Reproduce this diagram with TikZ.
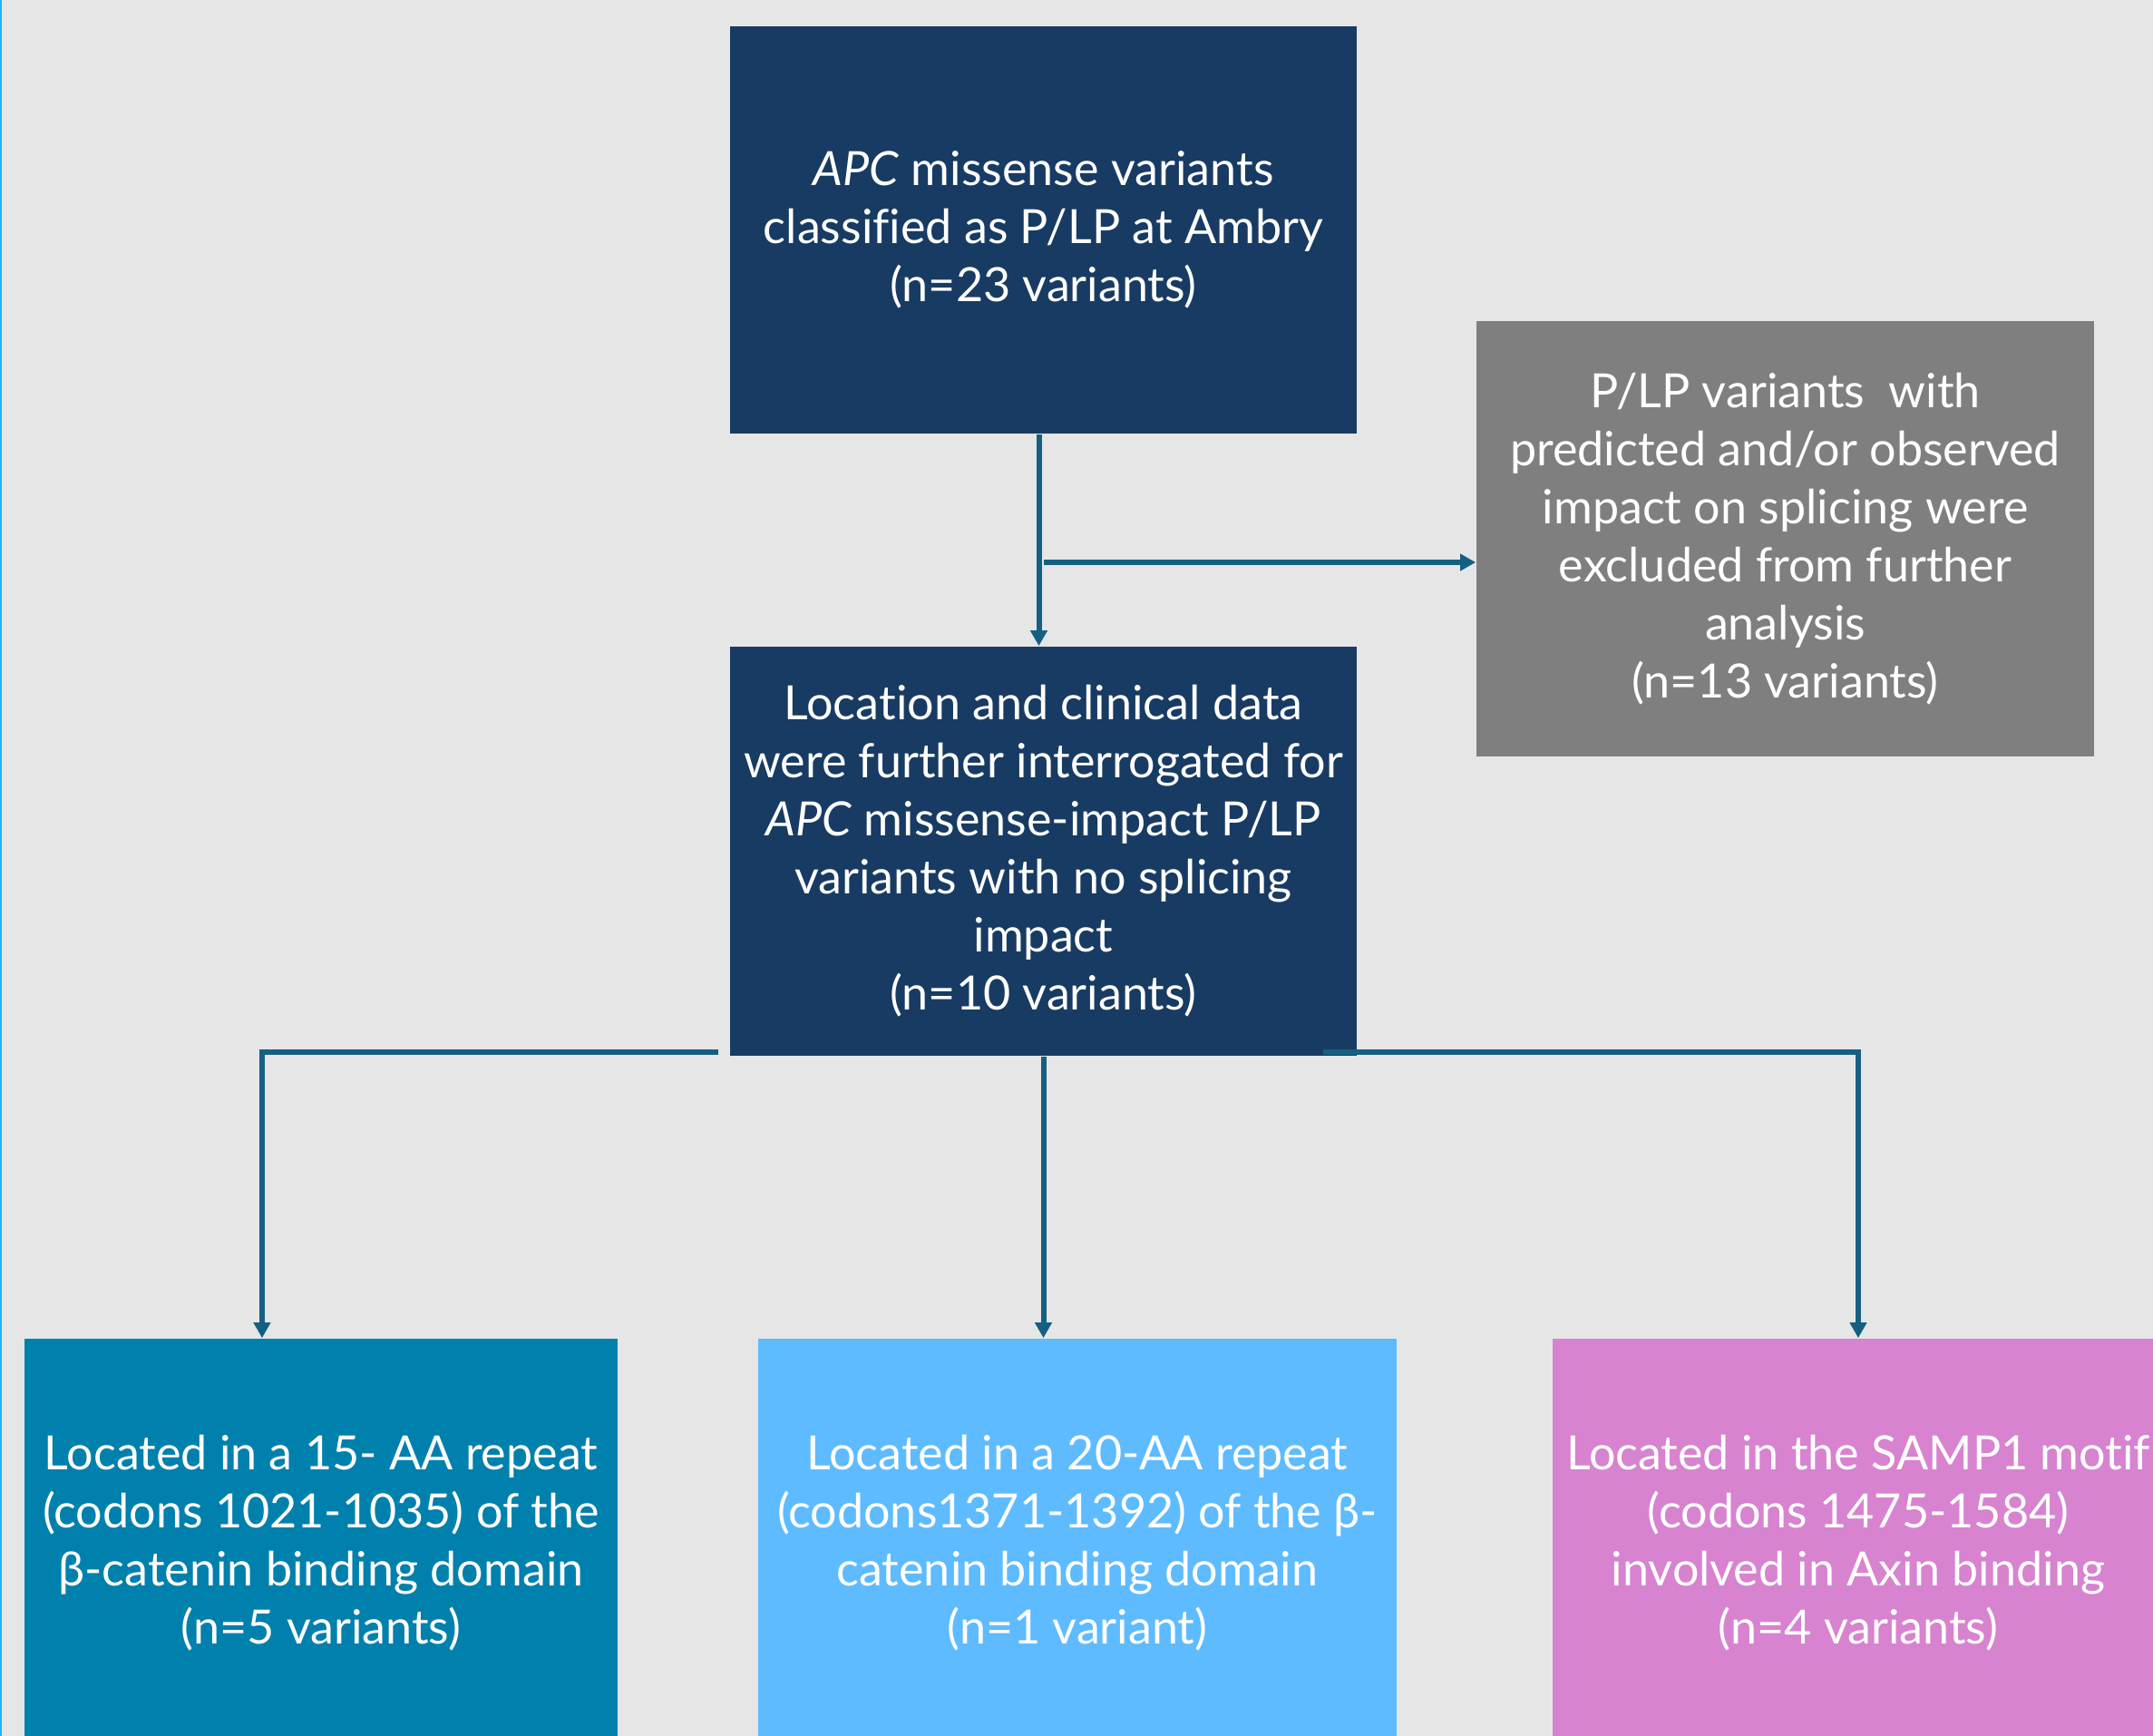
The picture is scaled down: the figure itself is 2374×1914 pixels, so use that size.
\documentclass[tikz,border=0pt]{standalone}
\usepackage{fontspec}
\setmainfont{Lato}[Ligatures=NoCommon]
\usetikzlibrary{arrows.meta}

\definecolor{bgrey}{RGB}{230,230,230}
\definecolor{navy}{RGB}{24,59,99}
\definecolor{midgrey}{RGB}{127,127,127}
\definecolor{teal}{RGB}{0,128,173}
\definecolor{sky}{RGB}{94,187,255}
\definecolor{orchid}{RGB}{215,131,208}
\definecolor{linkblue}{RGB}{21,96,130}
\definecolor{edgeblue}{RGB}{28,182,240}

\tikzset{
  box/.style={rectangle, inner sep=0pt, text=white, align=center,
    font=\fontsize{14.8}{18.2}\selectfont},
  arr/.style={draw=linkblue, line width=0.06cm,
    -{Triangle[length=0.17cm,width=0.18cm]}},
}

\begin{document}
\begin{tikzpicture}[x=0.01cm,y=-0.01cm]
        \clip (0,0) rectangle (2374,1914);
        \fill[bgrey] (0,0) rectangle (2374,1914);
        \draw[edgeblue, line width=0.02cm] (1,0) -- (1,1914);

        \node[box, fill=navy, minimum width=6.91cm, minimum height=4.49cm] (ambry) at (1150.5,253.5)
          {\textit{APC} missense variants\\classified as P/LP at Ambry\\(n=23 variants)};
        \node[box, fill=midgrey, minimum width=6.81cm, minimum height=4.80cm] (excl) at (1968.5,594)
          {P/LP variants \ with\\predicted and/or observed\\impact on splicing were\\excluded from further\\analysis\\(n=13 variants)};
        \node[box, fill=navy, minimum width=6.91cm, minimum height=4.51cm] (nosplice) at (1150.5,938.5)
          {Location and clinical data\\were further interrogated for\\\textit{APC} missense-impact P/LP\\variants with no splicing\\impact\\(n=10 variants)};

        \node[box, fill=teal, minimum width=6.54cm, minimum height=4.50cm] (rep15) at (354,1701)
          {Located in a 15- AA repeat\\(codons 1021-1035) of the\\β-catenin binding domain\\(n=5 variants)};
        \node[box, fill=sky, minimum width=7.04cm, minimum height=4.50cm] (rep20) at (1188,1701)
          {Located in a 20-AA repeat\\(codons1371-1392) of the β-\\catenin binding domain\\(n=1 variant)};
        \node[box, fill=orchid, minimum width=6.74cm, minimum height=4.50cm] (samp) at (2049,1701)
          {Located in the SAMP1 motif\\(codons 1475-1584)\\involved in Axin binding\\(n=4 variants)};

        \coordinate (split) at (1151,620);
        \coordinate (lstart) at (792,1160);
        \coordinate (rstart) at (1459,1160);

        \draw[arr] ([xshift=-0.05cm]ambry.south) -- ([xshift=-0.05cm]nosplice.north);
        \draw[arr] (split) -- (split -| excl.west);
        \draw[arr] (lstart) -| ([xshift=-0.65cm]rep15.north);
        \draw[arr] (nosplice.south) -- (nosplice.south |- rep20.north);
        \draw[arr] (rstart) -| (samp.north);
\end{tikzpicture}
\end{document}
